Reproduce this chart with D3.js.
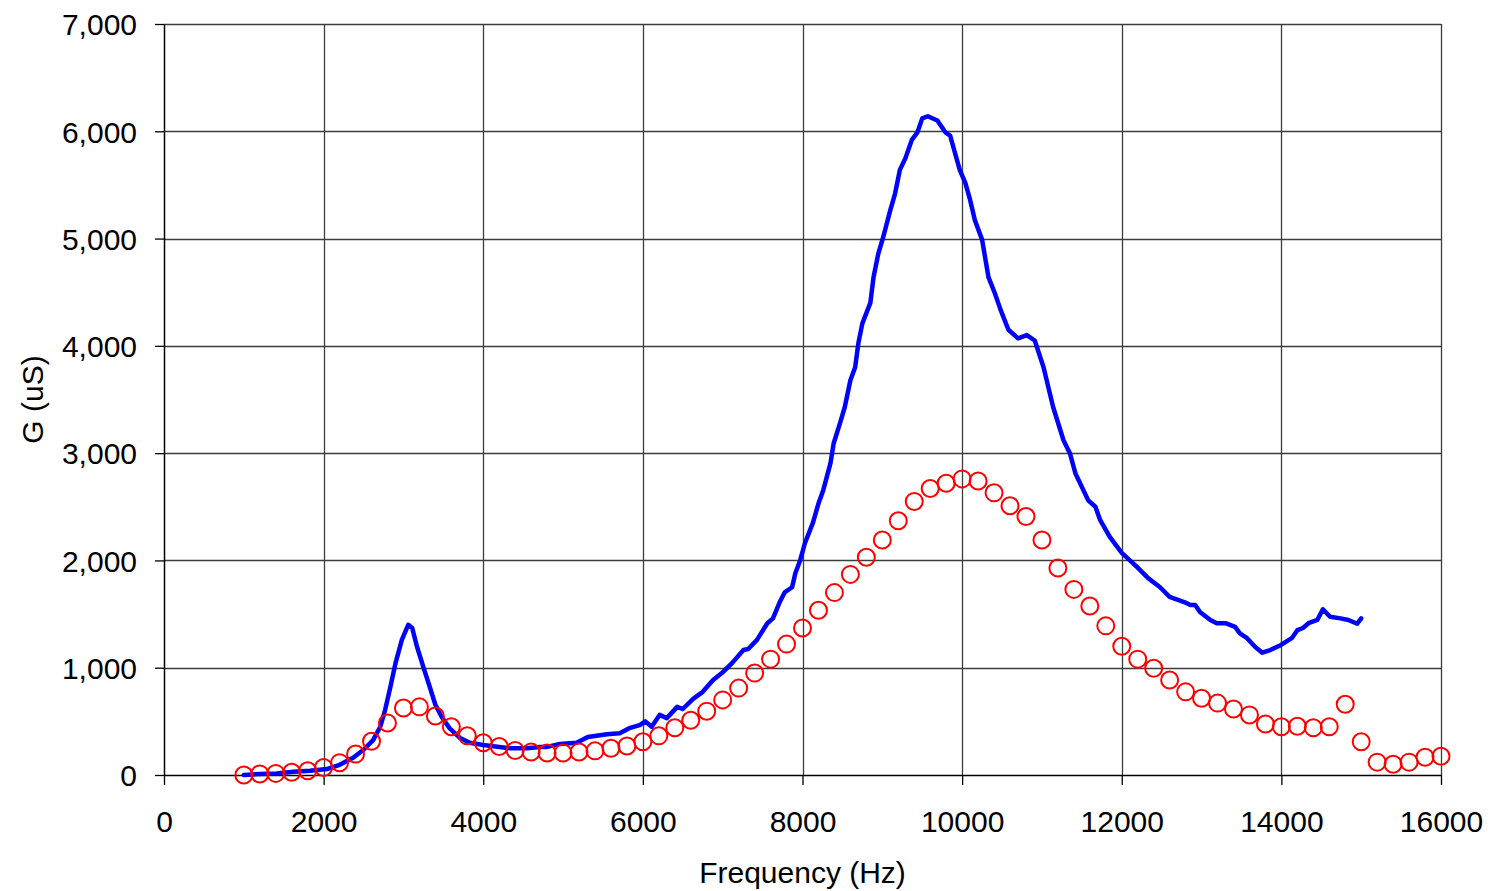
<!DOCTYPE html>
<html>
<head>
<meta charset="utf-8">
<script src="https://cdn.jsdelivr.net/npm/d3@7"></script>
<style>
  html, body { margin: 0; padding: 0; background: #fff; }
  svg { display: block; }
  text { font-family: "Liberation Sans", Arial, sans-serif; }
</style>
</head>
<body>
<svg id="chart" width="1488" height="891"></svg>
<script>
// ---- Data ----
const xTicks = [0, 2000, 4000, 6000, 8000, 10000, 12000, 14000, 16000];
const yTicks = [0, 1000, 2000, 3000, 4000, 5000, 6000, 7000];

// Blue line (measured)
const lineFreq = [1000,1200,1410,1620,1830,2040,2200,2370,2500,2620,2710,2770,2830,2900,2980,3060,3110,3170,3250,3330,3400,3480,3580,3710,3830,4000,4330,4550,4710,4800,4960,5170,5310,5550,5710,5840,5960,6030,6110,6210,6300,6430,6500,6630,6750,6880,6990,7120,7260,7320,7430,7560,7630,7720,7780,7870,7910,7970,8030,8130,8200,8260,8350,8390,8470,8530,8600,8660,8700,8750,8850,8890,8950,9010,9100,9160,9220,9290,9370,9440,9500,9570,9690,9790,9850,9910,9970,10040,10100,10160,10250,10330,10410,10480,10580,10700,10810,10910,11020,11140,11270,11350,11420,11580,11670,11730,11850,12000,12190,12330,12480,12600,12790,12860,12920,12980,13110,13190,13300,13420,13480,13570,13670,13760,13860,13990,14130,14200,14270,14340,14450,14520,14610,14740,14840,14950,15000];
const lineG = [0,10,15,30,40,55,95,160,235,325,450,605,800,1040,1260,1400,1370,1195,1005,820,655,540,435,345,300,280,250,250,260,262,290,300,355,380,390,440,465,500,450,560,530,635,615,710,775,885,950,1045,1165,1175,1260,1415,1460,1620,1705,1750,1880,2000,2160,2350,2530,2655,2905,3090,3280,3430,3680,3800,4025,4210,4400,4640,4860,5010,5265,5420,5640,5750,5920,5990,6120,6140,6100,5990,5960,5800,5640,5520,5360,5170,4990,4640,4490,4340,4150,4070,4100,4050,3800,3430,3120,3000,2810,2560,2500,2375,2220,2070,1940,1835,1750,1660,1610,1585,1585,1520,1445,1415,1415,1380,1320,1275,1195,1140,1165,1210,1275,1350,1370,1415,1445,1545,1475,1460,1445,1410,1460];

// Red circles (measured)
const pointFreq = [1000,1200,1400,1600,1800,2000,2200,2400,2600,2800,3000,3200,3400,3600,3800,4000,4200,4400,4600,4800,5000,5200,5400,5600,5800,6000,6200,6400,6600,6800,7000,7200,7400,7600,7800,8000,8200,8400,8600,8800,9000,9200,9400,9600,9800,10000,10200,10400,10600,10800,11000,11200,11400,11600,11800,12000,12200,12400,12600,12800,13000,13200,13400,13600,13800,14000,14200,14400,14600,14800,15000,15200,15400,15600,15800,16000];
const pointG = [0,10,15,25,40,70,115,195,315,485,625,635,550,450,365,300,265,228,215,205,205,215,225,250,270,310,365,440,510,595,700,810,950,1080,1220,1370,1535,1700,1870,2030,2190,2370,2550,2670,2720,2760,2740,2630,2510,2410,2190,1930,1730,1575,1390,1200,1080,995,885,775,715,670,615,560,475,450,455,440,450,660,310,120,100,120,165,175];

const xLabel = "Frequency (Hz)";
const yLabel = "G (uS)";

// ---- Layout ----
const svg = d3.select("#chart");
const mLeft = 164, mRight = 1441, mTop = 24, mBottom = 775;

const x = d3.scaleLinear().domain([0, 16000]).range([mLeft, mRight]);
const y = d3.scaleLinear().domain([0, 7000]).range([mBottom, mTop]);

const gridColor = "#3c3c3c";

// Gridlines
svg.append("g").selectAll("line").data(xTicks.filter(d => d > 0)).join("line")
  .attr("x1", d => Math.round(x(d)) + 0.5).attr("x2", d => Math.round(x(d)) + 0.5)
  .attr("y1", mTop).attr("y2", mBottom)
  .attr("stroke", gridColor).attr("stroke-width", 1.3);
svg.append("g").selectAll("line").data(yTicks.filter(d => d > 0)).join("line")
  .attr("x1", mLeft).attr("x2", mRight)
  .attr("y1", d => Math.round(y(d)) + 0.5).attr("y2", d => Math.round(y(d)) + 0.5)
  .attr("stroke", gridColor).attr("stroke-width", 1.3);

// Axes
const fontSize = 30;
const yAxis = svg.append("g")
  .attr("transform", `translate(${mLeft},0)`)
  .call(d3.axisLeft(y).tickValues(yTicks).tickFormat(d3.format(",")).tickSize(9).tickPadding(18).tickSizeOuter(0));
const xAxis = svg.append("g")
  .attr("transform", `translate(0,${mBottom})`)
  .call(d3.axisBottom(x).tickValues(xTicks).tickFormat(d => String(d)).tickSize(10).tickPadding(36).tickSizeOuter(0));

[xAxis, yAxis].forEach(g => {
  g.selectAll("path.domain").attr("stroke", "#000").attr("stroke-width", 1.5);
  g.selectAll(".tick line").attr("stroke", "#000").attr("stroke-width", 1.3);
  g.selectAll(".tick text").attr("fill", "#000")
    .style("font-size", fontSize + "px")
    .style("font-family", '"Liberation Sans", Arial, sans-serif');
});
yAxis.selectAll(".tick text").attr("dy", "0.36em");
xAxis.selectAll(".tick text").attr("dy", "0.36em");

// Blue line
const lineData = lineFreq.map((f, i) => [f, lineG[i]]);
svg.append("path")
  .datum(lineData)
  .attr("fill", "none")
  .attr("stroke", "#0000ff")
  .attr("stroke-width", 4.5)
  .attr("stroke-linejoin", "round")
  .attr("stroke-linecap", "round")
  .attr("d", d3.line().x(d => x(d[0])).y(d => y(d[1])));

// Red circles
svg.append("g").selectAll("circle")
  .data(pointFreq.map((f, i) => [f, pointG[i]]))
  .join("circle")
  .attr("cx", d => x(d[0]))
  .attr("cy", d => y(d[1]))
  .attr("r", 8.5)
  .attr("fill", "none")
  .attr("stroke", "#ff0000")
  .attr("stroke-width", 2);

// Axis titles
svg.append("text")
  .attr("x", (mLeft + mRight) / 2)
  .attr("y", 883)
  .attr("text-anchor", "middle")
  .style("font-size", fontSize + "px")
  .attr("fill", "#000")
  .text(xLabel);

svg.append("text")
  .attr("transform", `translate(43,${(mTop + mBottom) / 2}) rotate(-90)`)
  .attr("text-anchor", "middle")
  .style("font-size", fontSize + "px")
  .attr("fill", "#000")
  .text(yLabel);
</script>
</body>
</html>
